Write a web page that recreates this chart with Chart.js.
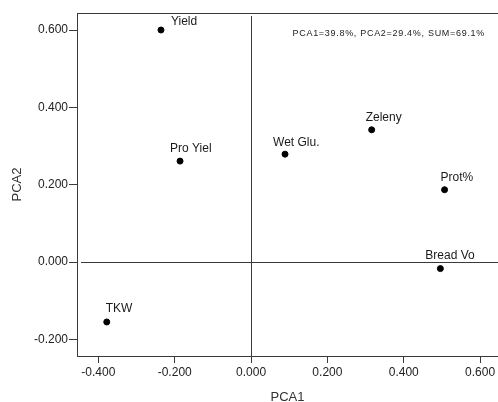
<!DOCTYPE html>
<html>
<head>
<meta charset="utf-8">
<script src="https://cdn.jsdelivr.net/npm/chart.js@4/dist/chart.umd.min.js"></script>
<style>
  html, body { margin: 0; padding: 0; background: #fff; overflow: hidden; }
  #wrap { width: 498px; height: 402px; }
  canvas { display: block; }
</style>
</head>
<body>
<div id="wrap"><canvas id="pca" width="498" height="402"></canvas></div>
<script>
// Dados: cargas dos componentes principais
const variaveis = ['Yield', 'Pro Yiel', 'Wet Glu.', 'Zeleny', 'Prot%', 'Bread Vo', 'TKW'];
const pca1 = [-0.236, -0.186, 0.089, 0.316, 0.507, 0.496, -0.378];
const pca2 = [0.600, 0.261, 0.279, 0.342, 0.187, -0.017, -0.155];

const xTicks = [-0.4, -0.2, 0.0, 0.2, 0.4, 0.6];
const yTicks = [-0.2, 0.0, 0.2, 0.4, 0.6];
const nota = 'PCA1=39.8%, PCA2=29.4%, SUM=69.1%';

const FONTE = '"Liberation Sans", Arial, sans-serif';
const COR_EIXO = '#3a3a3a';

// deslocamento dos rótulos (px) em relação ao ponto
const deslocRotulo = {
    'Yield': [10, -8],
    'Pro Yiel': [-10, -12],
    'Wet Glu.': [-12, -11],
    'Zeleny': [-6, -12],
    'Prot%': [-4, -12],
    'Bread Vo': [-15, -13],
    'TKW': [-1, -13]
};

// Linhas de referência em zero, moldura superior, rótulos e nota
const pluginExtras = {
    id: 'extras',
    beforeDatasetsDraw(chart) {
        const { ctx, chartArea, scales } = chart;
        const x0 = Math.round(scales.x.getPixelForValue(0)) + 0.5;
        const y0 = Math.round(scales.y.getPixelForValue(0)) + 0.5;
        const topo = Math.round(chartArea.top) + 0.5;
        ctx.save();
        ctx.strokeStyle = COR_EIXO;
        ctx.lineWidth = 1;
        ctx.beginPath();
        ctx.moveTo(chartArea.left + 4, y0);
        ctx.lineTo(chartArea.right, y0);
        ctx.moveTo(x0, chartArea.top + 3);
        ctx.lineTo(x0, chartArea.bottom);
        ctx.moveTo(chartArea.left, topo);
        ctx.lineTo(chartArea.right, topo);
        ctx.stroke();
        ctx.restore();
    },
    afterDatasetsDraw(chart) {
        const { ctx, chartArea, scales } = chart;
        ctx.save();
        ctx.fillStyle = '#1a1a1a';
        ctx.font = '12px ' + FONTE;
        ctx.textAlign = 'left';
        ctx.textBaseline = 'middle';
        variaveis.forEach((nome, i) => {
            const px = scales.x.getPixelForValue(pca1[i]);
            const py = scales.y.getPixelForValue(pca2[i]);
            const d = deslocRotulo[nome] || [4, -10];
            ctx.fillText(nome, px + d[0], py + d[1]);
        });
        ctx.font = '9px ' + FONTE;
        ctx.letterSpacing = '0.7px';
        ctx.textAlign = 'right';
        ctx.fillText(nota, chartArea.right - 13, chartArea.top + 21);
        ctx.restore();
    }
};

new Chart(document.getElementById('pca'), {
    type: 'scatter',
    data: {
        datasets: [{
            label: 'PCA',
            data: variaveis.map((v, i) => ({ x: pca1[i], y: pca2[i] })),
            backgroundColor: '#000',
            borderColor: '#000',
            pointRadius: 3,
            pointHoverRadius: 3
        }]
    },
    options: {
        responsive: false,
        animation: false,
        // sem autoPadding: a área do gráfico vai até a borda direita
        layout: { autoPadding: false, padding: { top: 13, right: 0, bottom: 0, left: 0 } },
        plugins: {
            legend: { display: false },
            tooltip: { enabled: false }
        },
        scales: {
            x: {
                type: 'linear',
                min: -0.456,
                max: 0.647,
                afterBuildTicks: s => { s.ticks = xTicks.map(v => ({ value: v })); },
                afterFit: s => { s.height = 46; s.paddingRight = 0; s.paddingLeft = 0; },
                grid: { drawOnChartArea: false, drawTicks: true, tickLength: 7, color: COR_EIXO },
                border: { display: true, color: COR_EIXO, width: 1 },
                ticks: {
                    color: '#222',
                    font: { family: FONTE, size: 12 },
                    padding: 2,
                    maxRotation: 0,
                    callback: v => v.toFixed(3)
                },
                title: {
                    display: true,
                    text: 'PCA1',
                    color: '#333',
                    font: { family: FONTE, size: 13 },
                    padding: { top: 0, bottom: -3 }
                }
            },
            y: {
                type: 'linear',
                min: -0.243,
                max: 0.644,
                afterBuildTicks: s => { s.ticks = yTicks.map(v => ({ value: v })); },
                afterFit: s => { s.width = 77; s.paddingTop = 0; s.paddingBottom = 0; },
                grid: { drawOnChartArea: false, drawTicks: true, tickLength: 8, color: COR_EIXO },
                border: { display: true, color: COR_EIXO, width: 1 },
                ticks: {
                    color: '#222',
                    font: { family: FONTE, size: 12 },
                    padding: 1,
                    callback: v => v.toFixed(3)
                },
                title: {
                    display: true,
                    text: 'PCA2',
                    color: '#333',
                    font: { family: FONTE, size: 13 },
                    padding: { top: 10, bottom: 0 }
                }
            }
        }
    },
    plugins: [pluginExtras]
});
</script>
</body>
</html>
